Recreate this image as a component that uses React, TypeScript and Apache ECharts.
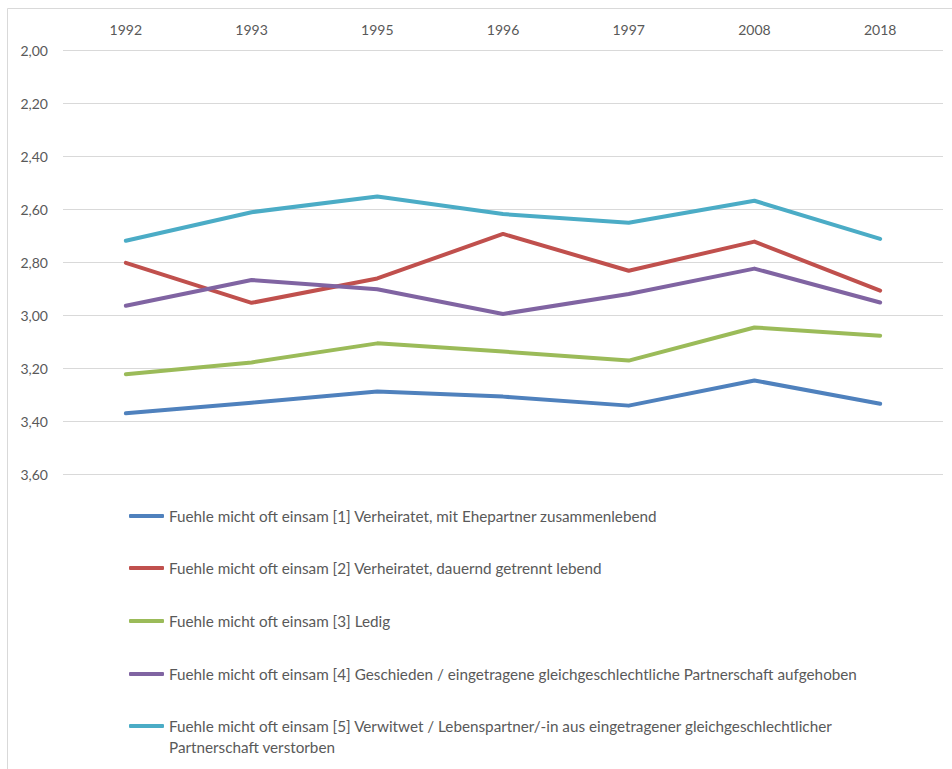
import React, { useEffect, useRef } from "react";
import * as echarts from "echarts";

const years = ["1992", "1993", "1995", "1996", "1997", "2008", "2018"];

const seriesNames = [
  "Fuehle micht oft einsam [1] Verheiratet, mit Ehepartner zusammenlebend",
  "Fuehle micht oft einsam [2] Verheiratet, dauernd getrennt lebend",
  "Fuehle micht oft einsam [3] Ledig",
  "Fuehle micht oft einsam [4] Geschieden / eingetragene gleichgeschlechtliche Partnerschaft aufgehoben",
  "Fuehle micht oft einsam [5] Verwitwet / Lebenspartner/-in aus eingetragener gleichgeschlechtlicher Partnerschaft verstorben",
];

const verheiratet = [3.371, 3.331, 3.289, 3.308, 3.342, 3.247, 3.335];
const getrennt = [2.803, 2.954, 2.862, 2.694, 2.833, 2.723, 2.908];
const ledig = [3.224, 3.179, 3.107, 3.138, 3.172, 3.047, 3.078];
const geschieden = [2.965, 2.868, 2.903, 2.996, 2.921, 2.825, 2.953];
const verwitwet = [2.72, 2.612, 2.553, 2.619, 2.652, 2.569, 2.713];

const yTicks = { min: 2.0, max: 3.6, step: 0.2 };

const colors = ["#4F81BD", "#C0504D", "#9BBB59", "#8064A2", "#4BACC6"];
const values = [verheiratet, getrennt, ledig, geschieden, verwitwet];

const FONT = "Lato";
const TEXT = "#595959";

export default function App() {
  const ref = useRef<HTMLDivElement>(null);
  useEffect(() => {
    if (!ref.current) return;
    const chart = echarts.init(ref.current, undefined, { renderer: "svg" });
    const legendCenters = [516, 568, 621, 674, 726];
    const legends = seriesNames.map((name, i) => {
      const last = i === seriesNames.length - 1;
      return {
        data: [name],
        orient: "vertical",
        left: 129,
        top: last ? legendCenters[i] - 31.5 : legendCenters[i] - 10,
        padding: 0,
        icon: "roundRect",
        itemWidth: 35,
        itemHeight: 4,
        selectedMode: false,
        formatter: last
          ? () =>
              "\nFuehle micht oft einsam [5] Verwitwet / Lebenspartner/-in aus eingetragener gleichgeschlechtlicher\nPartnerschaft verstorben"
          : undefined,
        textStyle: {
          color: TEXT,
          fontFamily: FONT,
          fontSize: 15.25,
          lineHeight: last ? 21 : 20,
        },
      };
    });
    chart.setOption({
      animation: false,
      backgroundColor: "#ffffff",
      color: colors,
      grid: { left: 63, right: 9, top: 50, bottom: 295, containLabel: false },
      xAxis: {
        type: "category",
        position: "top",
        data: years,
        boundaryGap: true,
        axisLine: { show: false },
        axisTick: { show: false },
        axisLabel: { color: TEXT, fontFamily: FONT, fontSize: 14, margin: 14 },
      },
      yAxis: {
        type: "value",
        inverse: true,
        min: yTicks.min,
        max: yTicks.max,
        interval: yTicks.step,
        axisLine: { show: false },
        axisTick: { show: false },
        splitLine: { lineStyle: { color: "#D9D9D9", width: 1 } },
        axisLabel: {
          color: TEXT,
          fontFamily: FONT,
          fontSize: 14,
          margin: 15,
          formatter: (v: number) => v.toFixed(2).replace(".", ","),
        },
      },
      legend: legends,
      graphic: [
        {
          type: "rect",
          shape: { x: 7.5, y: 8.5, width: 1000, height: 1000 },
          style: { fill: "none", stroke: "#D9D9D9", lineWidth: 1 },
          silent: true,
        },
      ],
      series: seriesNames.map((name, i) => ({
        name,
        type: "line",
        data: values[i],
        symbol: "none",
        lineStyle: { width: 4, color: colors[i], cap: "round", join: "round" },
        itemStyle: { color: colors[i] },
      })),
    });
    return () => chart.dispose();
  }, []);
  return (
    <div
      ref={ref}
      style={{ position: "absolute", left: 0, top: 0, width: 952, height: 769 }}
    />
  );
}
